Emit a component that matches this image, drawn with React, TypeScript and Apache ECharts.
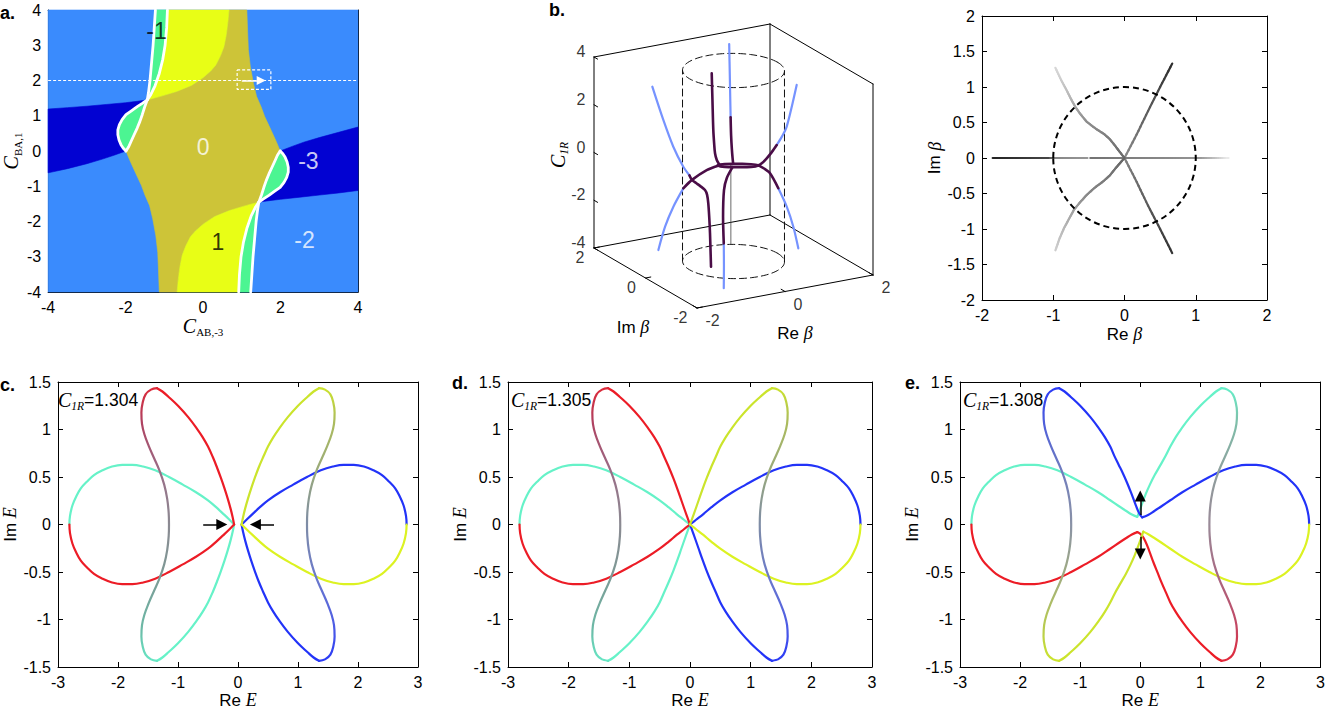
import React, { useEffect, useRef } from "react";
import * as echarts from "echarts";

type Pt = number[];
const FONT = '"Liberation Sans", Arial, Helvetica, sans-serif';
const SERIF = '"Liberation Serif", "Times New Roman", serif';

// ================= panel a : phase diagram =================
const aFrame: Pt[] = [[-4, -4], [4, -4], [4, 4], [-4, 4]];
const aStripTopLeft: Pt[] = [[-1.23, 4], [-1.26, 3.5], [-1.29, 3.0], [-1.33, 2.5], [-1.37, 2.0], [-1.41, 1.65], [-1.44, 1.45]];
const aStripTopRight: Pt[] = [[-0.92, 4], [-0.94, 3.5], [-0.98, 3.0], [-1.04, 2.6], [-1.13, 2.2], [-1.24, 1.85], [-1.36, 1.58], [-1.44, 1.45]];
const aStripBotLeft: Pt[] = [[0.92, -4], [0.94, -3.5], [0.98, -3.0], [1.04, -2.6], [1.13, -2.2], [1.24, -1.85], [1.36, -1.58], [1.44, -1.45]];
const aStripBotRight: Pt[] = [[1.23, -4], [1.26, -3.5], [1.29, -3.0], [1.33, -2.5], [1.37, -2.0], [1.41, -1.65], [1.44, -1.45]];
const aLobeLOuter: Pt[] = [[-1.44, 1.45], [-1.56, 1.36], [-1.7, 1.26], [-1.85, 1.14], [-1.99, 1.03], [-2.09, 0.89], [-2.16, 0.75], [-2.2, 0.6], [-2.2, 0.46], [-2.17, 0.31], [-2.12, 0.18], [-2.06, 0.08], [-1.99, 0]];
const aLobeLInner: Pt[] = [[-1.99, 0], [-1.92, 0.12], [-1.86, 0.27], [-1.78, 0.46], [-1.7, 0.65], [-1.63, 0.84], [-1.57, 1.03], [-1.51, 1.24], [-1.44, 1.45]];
const aLobeROuter: Pt[] = [[1.44, -1.45], [1.56, -1.36], [1.7, -1.26], [1.85, -1.14], [1.99, -1.03], [2.09, -0.89], [2.16, -0.75], [2.2, -0.6], [2.2, -0.46], [2.17, -0.31], [2.12, -0.18], [2.06, -0.08], [1.99, 0]];
const aLobeRInner: Pt[] = [[1.99, 0], [1.92, -0.12], [1.86, -0.27], [1.78, -0.46], [1.7, -0.65], [1.63, -0.84], [1.57, -1.03], [1.51, -1.24], [1.44, -1.45]];
const aBandLTop: Pt[] = [[-4, 1.19], [-3.5, 1.23], [-3.0, 1.27], [-2.5, 1.32], [-2.0, 1.37], [-1.7, 1.41], [-1.44, 1.45]];
const aBandLBottom: Pt[] = [[-1.99, 0], [-2.3, -0.12], [-2.6, -0.23], [-3.0, -0.36], [-3.5, -0.5], [-4, -0.62]];
const aBandRTop: Pt[] = [[1.99, 0], [2.3, 0.13], [2.6, 0.25], [3.0, 0.38], [3.5, 0.53], [4, 0.68]];
const aBandRBottom: Pt[] = [[4, -1.12], [3.5, -1.19], [3.0, -1.25], [2.5, -1.31], [2.0, -1.37], [1.7, -1.41], [1.44, -1.45]];
const aYellowEdgeTop: Pt[] = [[-1.44, 1.45], [-1.1, 1.55], [-0.68, 1.69], [-0.3, 1.86], [-0.01, 2.07], [0.2, 2.27], [0.33, 2.44], [0.45, 2.7], [0.54, 2.96], [0.6, 3.3], [0.64, 3.65], [0.67, 4]];
const aYellowEdgeBot: Pt[] = [[1.44, -1.45], [1.1, -1.55], [0.68, -1.69], [0.3, -1.86], [0.01, -2.07], [-0.2, -2.27], [-0.33, -2.44], [-0.45, -2.7], [-0.54, -2.96], [-0.6, -3.3], [-0.64, -3.65], [-0.67, -4]];
const aOliveRight: Pt[] = [[1.13, 4], [1.15, 3.4], [1.17, 2.87], [1.22, 2.4], [1.3, 1.92], [1.38, 1.55], [1.5, 1.25], [1.59, 0.98], [1.7, 0.72], [1.81, 0.46], [1.9, 0.24], [1.99, 0]];
const aOliveLeft: Pt[] = [[-1.13, -4], [-1.15, -3.4], [-1.17, -2.87], [-1.22, -2.4], [-1.3, -1.92], [-1.38, -1.55], [-1.5, -1.25], [-1.59, -0.98], [-1.7, -0.72], [-1.81, -0.46], [-1.9, -0.24], [-1.99, 0]];
const aLabelText = ["-1", "0", "-3", "1", "-2"];
const aLabelAt: Pt[] = [[-1.2, 3.41], [0.0, 0.12], [2.72, -0.28], [0.38, -2.57], [2.62, -2.52]];
const aLabelInk = ["#000", "#fff", "#fff", "#000", "#fff"];
const aDottedLine: Pt[] = [[-4, 2], [4, 2]];
const aDashedBox: Pt[] = [[0.88, 2.3], [1.75, 2.3], [1.75, 1.75], [0.88, 1.75], [0.88, 2.3]];
const aArrow: Pt[] = [[1.0, 2], [1.5, 2]];

// ================= panel b (3D) : [Re beta, Im beta, C1R] =================
const bNegReal: Pt[] = [[-1.845, 0, 3.96], [-1.595, 0, 2.48], [-1.368, 0, 1.28], [-1.141, 0, 0.36], [-1.0, 0, -0.05], [-0.943, 0, -0.26], [-0.85, 0, -0.42], [-0.761, 0, -0.57], [-0.648, 0, -0.78], [-0.6, 0, -1.0], [-0.573, 0, -1.37], [-0.55, 0, -2.0], [-0.534, 0, -2.63], [-0.511, 0, -4.04]];
const bBranchUp: Pt[] = [[-0.961, 1.276, -3.99], [-0.875, 1.162, -2.97], [-0.769, 1.021, -2.08], [-0.642, 0.852, -1.25], [-0.595, 0.595, -0.75], [-0.384, 0.384, -0.28], [-0.222, 0.222, -0.05]];
const bTopInner: Pt[] = [[-0.495, 0, 4.05], [-0.478, 0, 2.9], [-0.459, 0, 1.67], [-0.44, 0, 1.1], [-0.42, 0, 0.68], [-0.38, 0, 0.38], [-0.33, 0, 0.2], [-0.3, 0, 0.12]];
const bRay63: Pt[] = [[0.658, 1.292, 4.07], [0.568, 1.114, 2.9], [0.499, 0.98, 2.1], [0.44, 0.864, 1.35], [0.363, 0.713, 0.7], [0.25, 0.49, 0.3], [0.136, 0.267, 0.1], [0.045, 0.089, 0.02]];
const bPosReal: Pt[] = [[1.436, 0, 2.9], [1.209, 0, 1.23], [1.1, 0, 0.85], [0.982, 0, 0.54], [0.87, 0, 0.28], [0.755, 0, 0.06], [0.65, 0, -0.1], [0.57, 0, -0.176]];
const bRayM63: Pt[] = [[0.262, -0.515, 0.27], [0.323, -0.634, 0.18], [0.386, -0.758, 0.04], [0.474, -0.93, -0.51], [0.563, -1.105, -1.2], [0.633, -1.242, -1.98], [0.686, -1.345, -2.84]];
const bBranchDown: Pt[] = [[-0.05, -0.05, 0], [-0.3, -0.25, -0.25], [-0.45, -0.4, -0.6], [-0.6, -0.62, -1.54], [-0.66, -0.75, -2.54], [-0.82, -1.03, -3.25], [-0.97, -1.28, -3.98]];
const bRingTop: Pt[] = [[-0.36, 0, 0.145], [-0.3, 0, 0.162], [-0.2, 0, 0.149], [0, 0, 0.088], [0.2, 0, 0.019], [0.4, 0, -0.063], [0.5, 0, -0.119], [0.57, 0, -0.176]];
const bRingBottom: Pt[] = [[0.57, 0, -0.176], [0.5, 0, -0.19], [0.4, 0, -0.176], [0.2, 0, -0.115], [0, 0, -0.046], [-0.2, 0, 0.031], [-0.3, 0, 0.087], [-0.36, 0, 0.145]];
const bThin: Pt[] = [[-0.06, 0, 0.1], [-0.06, 0, -3.25]];
const bZTicks = [4, 2, 0, -2, -4];
const bImTicks = [2, 0, -2];
const bReTicks = [-2, 0, 2];
const bCylR = 1;

// ================= panel b (2D beta plane) =================
const betaRealNeg: Pt[] = [[-1.85, 0], [-1.63, 0], [-1.41, 0], [-1.19, 0], [-0.97, 0], [-0.74, 0], [-0.52, 0]];
const betaRealPos: Pt[] = [[-0.48, 0], [-0.26, 0], [-0.04, 0], [0.18, 0], [0.4, 0], [0.62, 0], [0.84, 0], [1.06, 0], [1.28, 0], [1.46, 0]];
const beta63: Pt[] = [[0, 0], [0.17, 0.33], [0.33, 0.66], [0.5, 1.0], [0.67, 1.33]];
const betaM63: Pt[] = [[0, 0], [0.17, -0.335], [0.33, -0.67], [0.5, -1.0], [0.67, -1.34]];
const betaUL: Pt[] = [[0, 0], [-0.07, 0.09], [-0.13, 0.17], [-0.21, 0.27], [-0.29, 0.34], [-0.4, 0.41], [-0.53, 0.51], [-0.62, 0.62], [-0.69, 0.72], [-0.75, 0.83], [-0.81, 0.95], [-0.89, 1.1], [-0.97, 1.27]];
const betaLL: Pt[] = [[0, 0], [-0.07, -0.08], [-0.13, -0.15], [-0.21, -0.25], [-0.3, -0.33], [-0.42, -0.42], [-0.53, -0.52], [-0.62, -0.62], [-0.71, -0.73], [-0.78, -0.86], [-0.85, -0.99], [-0.91, -1.13], [-0.97, -1.3]];

// ================= panels c, d, e : complex E =================
const eArcLU: Pt[] = [[-2.81, 0], [-2.8, 0.09], [-2.76, 0.2], [-2.7, 0.29], [-2.62, 0.38], [-2.52, 0.45], [-2.4, 0.52], [-2.26, 0.57], [-2.1, 0.61], [-1.93, 0.628], [-1.76, 0.628], [-1.58, 0.61], [-1.38, 0.57], [-1.15, 0.5], [-0.92, 0.42], [-0.7, 0.34], [-0.5, 0.255]];
const eArcLL: Pt[] = [[-2.81, 0], [-2.8, -0.09], [-2.76, -0.2], [-2.7, -0.29], [-2.62, -0.38], [-2.52, -0.45], [-2.4, -0.52], [-2.26, -0.57], [-2.1, -0.61], [-1.93, -0.628], [-1.76, -0.628], [-1.58, -0.61], [-1.38, -0.57], [-1.15, -0.5], [-0.92, -0.42], [-0.7, -0.34], [-0.5, -0.255]];
const eArcRU: Pt[] = [[2.81, 0], [2.8, 0.09], [2.76, 0.2], [2.7, 0.29], [2.62, 0.38], [2.52, 0.45], [2.4, 0.52], [2.26, 0.57], [2.1, 0.61], [1.93, 0.628], [1.76, 0.628], [1.58, 0.61], [1.38, 0.57], [1.15, 0.5], [0.92, 0.42], [0.7, 0.34], [0.5, 0.255]];
const eArcRL: Pt[] = [[2.81, 0], [2.8, -0.09], [2.76, -0.2], [2.7, -0.29], [2.62, -0.38], [2.52, -0.45], [2.4, -0.52], [2.26, -0.57], [2.1, -0.61], [1.93, -0.628], [1.76, -0.628], [1.58, -0.61], [1.38, -0.57], [1.15, -0.5], [0.92, -0.42], [0.7, -0.34], [0.5, -0.255]];
const ePetalULFar: Pt[] = [[-0.5, 0.82], [-0.59, 0.92], [-0.68, 1.005], [-0.83, 1.13], [-1.0, 1.25], [-1.16, 1.345], [-1.26, 1.4], [-1.35, 1.435]];
const ePetalLLFar: Pt[] = [[-0.5, -0.82], [-0.59, -0.92], [-0.68, -1.005], [-0.83, -1.13], [-1.0, -1.25], [-1.16, -1.345], [-1.26, -1.4], [-1.35, -1.435]];
const ePetalURFar: Pt[] = [[0.5, 0.82], [0.59, 0.92], [0.68, 1.005], [0.83, 1.13], [1.0, 1.25], [1.16, 1.345], [1.26, 1.4], [1.35, 1.435]];
const ePetalLRFar: Pt[] = [[0.5, -0.82], [0.59, -0.92], [0.68, -1.005], [0.83, -1.13], [1.0, -1.25], [1.16, -1.345], [1.26, -1.4], [1.35, -1.435]];
const eSL: Pt[] = [[-1.35, 1.435], [-1.45, 1.42], [-1.54, 1.37], [-1.59, 1.28], [-1.61, 1.18], [-1.6, 1.06], [-1.56, 0.95], [-1.49, 0.83], [-1.4, 0.7], [-1.31, 0.57], [-1.23, 0.42], [-1.18, 0.27], [-1.155, 0.12], [-1.15, 0], [-1.155, -0.12], [-1.18, -0.27], [-1.23, -0.42], [-1.31, -0.57], [-1.4, -0.7], [-1.49, -0.83], [-1.56, -0.95], [-1.6, -1.06], [-1.61, -1.18], [-1.59, -1.28], [-1.54, -1.37], [-1.45, -1.42], [-1.35, -1.435]];
const eSR: Pt[] = [[1.35, 1.435], [1.45, 1.42], [1.54, 1.37], [1.59, 1.28], [1.61, 1.18], [1.6, 1.06], [1.56, 0.95], [1.49, 0.83], [1.4, 0.7], [1.31, 0.57], [1.23, 0.42], [1.18, 0.27], [1.155, 0.12], [1.15, 0], [1.155, -0.12], [1.18, -0.27], [1.23, -0.42], [1.31, -0.57], [1.4, -0.7], [1.49, -0.83], [1.56, -0.95], [1.6, -1.06], [1.61, -1.18], [1.59, -1.28], [1.54, -1.37], [1.45, -1.42], [1.35, -1.435]];

// panel c (C1R = 1.304): two pinched tips
const cArcLUNear: Pt[] = [[-0.5, 0.255], [-0.37, 0.185], [-0.25, 0.115], [-0.15, 0.055], [-0.065, 0]];
const cArcLLNear: Pt[] = [[-0.5, -0.255], [-0.37, -0.185], [-0.25, -0.115], [-0.15, -0.055], [-0.065, 0]];
const cPetalULNear: Pt[] = [[-0.065, 0], [-0.09, 0.08], [-0.125, 0.17], [-0.17, 0.27], [-0.225, 0.38], [-0.285, 0.49], [-0.35, 0.6], [-0.42, 0.71], [-0.5, 0.82]];
const cPetalLLNear: Pt[] = [[-0.065, 0], [-0.09, -0.08], [-0.125, -0.17], [-0.17, -0.27], [-0.225, -0.38], [-0.285, -0.49], [-0.35, -0.6], [-0.42, -0.71], [-0.5, -0.82]];
const cArcRUNear: Pt[] = [[0.5, 0.255], [0.37, 0.185], [0.25, 0.115], [0.15, 0.055], [0.06, 0]];
const cArcRLNear: Pt[] = [[0.5, -0.255], [0.37, -0.185], [0.25, -0.115], [0.15, -0.055], [0.06, 0]];
const cPetalURNear: Pt[] = [[0.06, 0], [0.085, 0.08], [0.12, 0.17], [0.165, 0.27], [0.22, 0.38], [0.28, 0.49], [0.345, 0.6], [0.42, 0.71], [0.5, 0.82]];
const cPetalLRNear: Pt[] = [[0.06, 0], [0.085, -0.08], [0.12, -0.17], [0.165, -0.27], [0.22, -0.38], [0.28, -0.49], [0.345, -0.6], [0.42, -0.71], [0.5, -0.82]];
const cArrows: Pt[][] = [[[-0.58, 0], [-0.27, 0]], [[0.6, 0], [0.29, 0]]];

// panel d (C1R = 1.305): all touch at the origin
const dArcLUNear: Pt[] = [[-0.5, 0.255], [-0.35, 0.18], [-0.22, 0.11], [-0.1, 0.05], [0, 0]];
const dArcLLNear: Pt[] = [[-0.5, -0.255], [-0.35, -0.18], [-0.22, -0.11], [-0.1, -0.05], [0, 0]];
const dPetalULNear: Pt[] = [[0, 0], [-0.04, 0.07], [-0.085, 0.15], [-0.14, 0.25], [-0.2, 0.36], [-0.27, 0.48], [-0.34, 0.59], [-0.42, 0.705], [-0.5, 0.82]];
const dPetalLLNear: Pt[] = [[0, 0], [-0.04, -0.07], [-0.085, -0.15], [-0.14, -0.25], [-0.2, -0.36], [-0.27, -0.48], [-0.34, -0.59], [-0.42, -0.705], [-0.5, -0.82]];
const dArcRUNear: Pt[] = [[0.5, 0.255], [0.35, 0.18], [0.22, 0.11], [0.1, 0.05], [0, 0]];
const dArcRLNear: Pt[] = [[0.5, -0.255], [0.35, -0.18], [0.22, -0.11], [0.1, -0.05], [0, 0]];
const dPetalURNear: Pt[] = [[0, 0], [0.04, 0.07], [0.085, 0.15], [0.14, 0.25], [0.2, 0.36], [0.27, 0.48], [0.34, 0.59], [0.42, 0.705], [0.5, 0.82]];
const dPetalLRNear: Pt[] = [[0, 0], [0.04, -0.07], [0.085, -0.15], [0.14, -0.25], [0.2, -0.36], [0.27, -0.48], [0.34, -0.59], [0.42, -0.705], [0.5, -0.82]];

// panel e (C1R = 1.308): reconnected, separated tips
const xArcLUNear: Pt[] = [[-0.5, 0.255], [-0.36, 0.195], [-0.24, 0.145], [-0.14, 0.105], [-0.05, 0.08]];
const xPetalURNear: Pt[] = [[-0.05, 0.08], [-0.015, 0.14], [0.03, 0.22], [0.09, 0.32], [0.16, 0.42], [0.24, 0.52], [0.33, 0.62], [0.42, 0.72], [0.5, 0.82]];
const xPetalULNear: Pt[] = [[0.03, 0.075], [-0.02, 0.12], [-0.085, 0.22], [-0.15, 0.33], [-0.22, 0.44], [-0.29, 0.54], [-0.36, 0.63], [-0.43, 0.72], [-0.5, 0.82]];
const xArcRUNear: Pt[] = [[0.5, 0.255], [0.36, 0.195], [0.24, 0.145], [0.13, 0.1], [0.03, 0.075]];
const xArcLLNear: Pt[] = [[-0.5, -0.255], [-0.36, -0.195], [-0.24, -0.145], [-0.14, -0.105], [-0.05, -0.08]];
const xPetalLRNear: Pt[] = [[-0.05, -0.08], [0.02, -0.11], [0.08, -0.17], [0.15, -0.28], [0.22, -0.4], [0.29, -0.51], [0.36, -0.62], [0.43, -0.72], [0.5, -0.82]];
const xArcRLNear: Pt[] = [[0.5, -0.255], [0.36, -0.195], [0.24, -0.145], [0.14, -0.105], [0.05, -0.075]];
const xPetalLLNear: Pt[] = [[0.05, -0.075], [0.015, -0.14], [-0.03, -0.22], [-0.09, -0.32], [-0.16, -0.42], [-0.24, -0.52], [-0.33, -0.62], [-0.42, -0.72], [-0.5, -0.82]];
const eArrows: Pt[][] = [[[0, 0.1], [0, 0.3]], [[0, -0.13], [0, -0.31]]];
const c1rValues = ["1.304", "1.305", "1.308"];

// ================= styles =================
const COL = {
  light: "#3a8bfd", dark: "#0202d2", olive: "#cdc438", yellow: "#e8fe16", green: "#4cf592",
  cyan: "#66f2c8", red: "#ec1c26", blue: "#2233f8", yel: "#dcf222", yg: "#cbe42c",
};
const gLeftCD: [number, string][] = [[0, "#dc2a3a"], [0.12, "#b0405f"], [0.3, "#9a6c86"], [0.5, "#8b8a92"], [0.7, "#7c9b96"], [0.88, "#6cb9a6"], [1, "#66e6c4"]];
const gRightCD: [number, string][] = [[0, "#cbe22e"], [0.12, "#acbc5c"], [0.3, "#9aaa7a"], [0.5, "#7e8ca6"], [0.7, "#6a78cc"], [0.88, "#4b5ae6"], [1, "#2a3af6"]];
const gLeftE: [number, string][] = [[0, "#2a3af6"], [0.12, "#4d5ddc"], [0.3, "#6f7cbe"], [0.5, "#8a92a6"], [0.7, "#a2ae7e"], [0.88, "#b8cc4e"], [1, "#cbe42c"]];
const gRightE: [number, string][] = [[0, "#66eec8"], [0.12, "#7ec0aa"], [0.3, "#8ea09e"], [0.5, "#9a8a98"], [0.7, "#aa6680"], [0.88, "#c44662"], [1, "#e2283a"]];

const GRID_A = { left: 42, top: 10, width: 316, height: 282 };
const GRID_3D = { left: 540, top: 0, width: 360, height: 340 };
const GRID_B = { left: 982, top: 16, width: 285, height: 284 };
const GRID_C = { left: 55, top: 382, width: 363, height: 285 };
const GRID_D = { left: 508, top: 382, width: 364, height: 285 };
const GRID_E = { left: 960, top: 382, width: 363, height: 285 };

// 3D view (azimuth/elevation) expressed as a linear projection, pixels per unit
const PROJ = { re: [44, 8.25], im: [-25.75, 15], z: [0, 23.875] };
const proj = (p: Pt): Pt => [PROJ.re[0] * p[0] + PROJ.im[0] * p[1] + PROJ.z[0] * p[2], PROJ.re[1] * p[0] + PROJ.im[1] * p[1] + PROJ.z[1] * p[2]];

const hex = (c: number[]) => `rgb(${c.map((v) => Math.round(v)).join(",")})`;
function mix(stops: [number, number[]][], t: number) {
  if (t <= stops[0][0]) return hex(stops[0][1]);
  for (let i = 0; i < stops.length - 1; i++) {
    const [o0, c0] = stops[i];
    const [o1, c1] = stops[i + 1];
    if (t <= o1) {
      const f = (t - o0) / (o1 - o0 || 1);
      return hex(c0.map((v, k) => v + (c1[k] - v) * f));
    }
  }
  return hex(stops[stops.length - 1][1]);
}
const gray = (v: number) => [v, v, v];

const richSub = {
  c: { fontFamily: SERIF, fontStyle: "italic", fontSize: 20, lineHeight: 24, color: "#000", fill: "#000" },
  s: { fontFamily: SERIF, fontStyle: "italic", fontSize: 11.5, lineHeight: 7, verticalAlign: "bottom", color: "#000", fill: "#000" },
  u: { fontFamily: SERIF, fontSize: 11, lineHeight: 7, verticalAlign: "bottom", color: "#000", fill: "#000" },
  n: { fontFamily: FONT, fontSize: 17.5, lineHeight: 24, color: "#000", fill: "#000" },
  r: { fontFamily: FONT, fontSize: 17, lineHeight: 24, color: "#000", fill: "#000" },
  i: { fontFamily: SERIF, fontStyle: "italic", fontSize: 18, lineHeight: 24, color: "#000", fill: "#000" },
};

function buildOption() {
  const xAxis: any[] = [];
  const yAxis: any[] = [];
  const series: any[] = [];
  const grid = [GRID_A, GRID_3D, GRID_B, GRID_C, GRID_D, GRID_E].map((g) => ({ ...g, show: false, containLabel: false }));

  const axisCfg = (gi: number, r: number[], position: string, labels: boolean, nm?: any) => {
    const o: any = {
      type: "value", gridIndex: gi, min: r[0], max: r[1], interval: r[2], position,
      axisLine: { show: true, onZero: false, lineStyle: { color: "#000", width: 1 } },
      axisTick: { show: true, inside: true, length: 5, lineStyle: { color: "#000", width: 1 } },
      axisLabel: { show: labels, color: "#000", fontFamily: FONT, fontSize: 16, margin: 7 },
      splitLine: { show: false },
    };
    if (nm) {
      o.name = nm.text;
      o.nameLocation = "middle";
      o.nameGap = nm.gap;
      o.nameTextStyle = { color: "#000", fontFamily: FONT, fontSize: 17, rich: richSub };
    }
    return o;
  };
  const frame = (gi: number, xr: number[], yr: number[], xn: any, yn: any) => {
    const xi = xAxis.length;
    xAxis.push(axisCfg(gi, xr, "bottom", true, xn));
    xAxis.push(axisCfg(gi, xr, "top", false));
    const yi = yAxis.length;
    yAxis.push(axisCfg(gi, yr, "left", true, yn));
    yAxis.push(axisCfg(gi, yr, "right", false));
    return { xi, yi };
  };

  // ---------- panel a ----------
  const A = frame(0, [-4, 4, 2], [-4, 4, 1], { text: "{c|C}{u|AB,-3}", gap: 19 }, { text: "{c|C}{u|BA,1}", gap: 21 });
  const aRegions = [
    { pts: aFrame, color: COL.light },
    { pts: [...aBandLTop, ...aLobeLOuter.slice(1), ...aBandLBottom.slice(1)], color: COL.dark },
    { pts: [...aBandRTop, ...aBandRBottom, ...aLobeROuter.slice(1)], color: COL.dark },
    { pts: [...aYellowEdgeTop, ...aOliveRight, ...aLobeRInner.slice(1), ...aYellowEdgeBot.slice(1), ...aOliveLeft, ...aLobeLInner.slice(1)], color: COL.olive },
    { pts: [...aStripTopRight, ...aYellowEdgeTop.slice(1)], color: COL.yellow },
    { pts: [...aStripBotLeft, ...aYellowEdgeBot.slice(1)], color: COL.yellow },
    { pts: [...aStripTopLeft, ...aStripTopRight.slice().reverse().slice(1)], color: COL.green },
    { pts: [...aStripBotRight, ...aStripBotLeft.slice().reverse().slice(1)], color: COL.green },
    { pts: [...aLobeLOuter, ...aLobeLInner.slice(1)], color: COL.green },
    { pts: [...aLobeROuter, ...aLobeRInner.slice(1)], color: COL.green },
  ];
  series.push({
    type: "custom", xAxisIndex: A.xi, yAxisIndex: A.yi, silent: true, z: 1,
    data: aRegions.map((_, i) => [0, 0, i]),
    renderItem: (params: any, api: any) => {
      const r = aRegions[params.dataIndex];
      return { type: "polygon", shape: { points: r.pts.map((p) => api.coord(p)) }, style: { fill: r.color, stroke: r.color, lineWidth: 0.6 } };
    },
  });
  [aStripTopLeft, aStripTopRight, aLobeLOuter, aLobeLInner, aStripBotLeft, aStripBotRight, aLobeROuter, aLobeRInner].forEach((pts) =>
    series.push({ type: "line", xAxisIndex: A.xi, yAxisIndex: A.yi, data: pts, symbol: "none", silent: true, z: 4, lineStyle: { color: "#fff", width: 2.8, cap: "round", join: "round" } })
  );
  series.push({ type: "line", xAxisIndex: A.xi, yAxisIndex: A.yi, data: aDottedLine, symbol: "none", silent: true, z: 4, lineStyle: { color: "#fff", width: 1.2, type: [3, 2] } });
  series.push({ type: "line", xAxisIndex: A.xi, yAxisIndex: A.yi, data: aDashedBox, symbol: "none", silent: true, z: 4, lineStyle: { color: "#fff", width: 1.2, type: [3, 2] } });
  series.push({
    type: "lines", coordinateSystem: "cartesian2d", xAxisIndex: A.xi, yAxisIndex: A.yi, silent: true, z: 5,
    symbol: ["none", "triangle"], symbolSize: 9, lineStyle: { color: "#fff", width: 1.6, opacity: 1, curveness: 0 },
    data: [{ coords: aArrow }],
  });
  series.push({
    type: "scatter", xAxisIndex: A.xi, yAxisIndex: A.yi, silent: true, z: 6, symbolSize: 1, itemStyle: { color: "rgba(0,0,0,0)" },
    data: aLabelText.map((t, i) => ({ value: [aLabelAt[i][0], aLabelAt[i][1], t], label: { color: aLabelInk[i] } })),
    label: { show: true, position: "inside", formatter: (p: any) => p.value[2], fontFamily: FONT, fontSize: 23, align: "center", verticalAlign: "middle" },
  });

  // ---------- panel b : 3D ----------
  const H = { xi: xAxis.length, yi: yAxis.length };
  xAxis.push({ type: "value", gridIndex: 1, min: -193.5, max: 166.5, show: false });
  yAxis.push({ type: "value", gridIndex: 1, min: -174, max: 166, show: false });
  const line3 = (pts: Pt[], color: string, width: number, z: number, extra: any = {}) =>
    series.push({ type: "line", xAxisIndex: H.xi, yAxisIndex: H.yi, data: pts.map(proj), symbol: "none", silent: true, z, lineStyle: { color, width, cap: "round", join: "round", ...(extra.lineStyle || {}) }, smooth: extra.smooth || false });
  const boxEdges: Pt[][] = [
    [[-2, 2, -4], [-2, 2, 4]], [[2, 2, -4], [2, 2, 4]], [[2, -2, -4], [2, -2, 4]],
    [[-2, 2, 4], [2, 2, 4]], [[2, 2, 4], [2, -2, 4]],
    [[-2, 2, -4], [2, 2, -4]], [[2, 2, -4], [2, -2, -4]], [[-2, 2, -4], [-2, -2, -4]], [[-2, -2, -4], [2, -2, -4]],
  ];
  boxEdges.forEach((e) => line3(e, "#000", 1, 1));
  bZTicks.forEach((z) => line3([[-2, 2, z], [-2, 1.86, z]], "#000", 1, 1));
  bImTicks.forEach((im) => line3([[-2, im, -4], [-1.88, im, -4]], "#000", 1, 1));
  bReTicks.forEach((re) => line3([[re, -2, -4], [re, -1.85, -4]], "#000", 1, 1));
  // dashed cylinder |beta| = 1
  const ring = (z: number) => Array.from({ length: 91 }, (_, k) => { const t = (k / 90) * 2 * Math.PI; return [bCylR * Math.cos(t), bCylR * Math.sin(t), z]; });
  const th = Math.atan2(PROJ.im[0], PROJ.re[0]);
  const sil1 = [Math.cos(th) * bCylR, Math.sin(th) * bCylR];
  const sil2 = [-sil1[0], -sil1[1]];
  const dashed = { lineStyle: { type: [7, 4] } };
  line3(ring(4), "#111", 1, 2, dashed);
  line3(ring(-4), "#111", 1, 2, dashed);
  line3([[sil1[0], sil1[1], -4], [sil1[0], sil1[1], 4]], "#111", 1, 2, dashed);
  line3([[sil2[0], sil2[1], -4], [sil2[0], sil2[1], 4]], "#111", 1, 2, dashed);
  line3(bThin, "#444", 0.8, 2);
  const PURPLE = "#4a0d47";
  const BLUE3 = "#7693ff";
  const drawCurve = (c: Pt[]) => {
    let cur: Pt[] = [c[0]];
    let inside: boolean | null = null;
    const flush = () => line3(cur, inside ? PURPLE : BLUE3, inside ? 2.6 : 2.2, inside ? 4 : 3, { smooth: 0.3 });
    for (let i = 0; i < c.length - 1; i++) {
      const a = c[i], b = c[i + 1];
      const ins = Math.hypot((a[0] + b[0]) / 2, (a[1] + b[1]) / 2) < bCylR;
      if (inside === null) inside = ins;
      if (ins !== inside) { flush(); cur = [a]; inside = ins; }
      cur.push(b);
    }
    flush();
  };
  [bNegReal, bBranchUp, bTopInner, bRay63, bPosReal, bRayM63, bBranchDown, bRingTop, bRingBottom].forEach(drawCurve);
  const tickLabels = (pts: Pt[], texts: string[], position: number[], align: string) =>
    series.push({
      type: "scatter", xAxisIndex: H.xi, yAxisIndex: H.yi, silent: true, z: 6, symbolSize: 1, itemStyle: { color: "rgba(0,0,0,0)" },
      data: pts.map((p, i) => ({ value: [...proj(p), texts[i]] })),
      label: { show: true, position, formatter: (p: any) => p.value[2], fontFamily: FONT, fontSize: 16, color: "#000", align, verticalAlign: "middle" },
    });
  tickLabels(bZTicks.map((z) => [-2, 2, z]), bZTicks.map(String), [-8, -5], "right");
  tickLabels(bImTicks.map((im) => [-2, im, -4]), bImTicks.map(String), [-9, 10], "right");
  tickLabels(bReTicks.map((re) => [re, -2, -4]), bReTicks.map(String), [9, 13], "left");

  // ---------- panel b : beta plane ----------
  const B = frame(2, [-2, 2, 1], [-2, 2, 0.5], { text: "{r|Re\u00a0}{i|β}", gap: 22 }, { text: "{r|Im\u00a0}{i|β}", gap: 34 });
  const gradPolyline = (pts: Pt[], stops: [number, number[]][], width: number, ax: any, z = 3) => {
    const n = pts.length;
    return {
      type: "custom", xAxisIndex: ax.xi, yAxisIndex: ax.yi, silent: true, z,
      data: pts.slice(0, -1).map((p, i) => [p[0], p[1], pts[i + 1][0], pts[i + 1][1], i]),
      encode: { x: [0, 2], y: [1, 3] },
      renderItem: (params: any, api: any) => {
        const a = api.coord([api.value(0), api.value(1)]);
        const b = api.coord([api.value(2), api.value(3)]);
        const i = api.value(4);
        const k = 6;
        const children: any[] = [];
        for (let j = 0; j < k; j++) {
          const t0 = j / k, t1 = (j + 1) / k;
          children.push({
            type: "line",
            shape: { x1: a[0] + (b[0] - a[0]) * t0, y1: a[1] + (b[1] - a[1]) * t0, x2: a[0] + (b[0] - a[0]) * t1, y2: a[1] + (b[1] - a[1]) * t1 },
            style: { stroke: mix(stops, (i + (j + 0.5) / k) / (n - 1)), lineWidth: width, lineCap: "round" },
          });
        }
        return { type: "group", children };
      },
    };
  };
  series.push(gradPolyline(betaRealNeg, [[0, gray(35)], [0.6, gray(70)], [0.66, gray(135)], [1, gray(150)]], 2.2, B));
  series.push(gradPolyline(betaRealPos, [[0, gray(115)], [0.5, gray(135)], [0.78, gray(150)], [1, gray(238)]], 2.2, B));
  series.push(gradPolyline(beta63, [[0, gray(140)], [1, gray(45)]], 2.2, B));
  series.push(gradPolyline(betaM63, [[0, gray(130)], [1, gray(50)]], 2.2, B));
  series.push(gradPolyline(betaUL, [[0, gray(105)], [0.5, gray(140)], [1, gray(215)]], 2.2, B));
  series.push(gradPolyline(betaLL, [[0, gray(100)], [0.5, gray(135)], [1, gray(205)]], 2.2, B));
  series.push({
    type: "custom", xAxisIndex: B.xi, yAxisIndex: B.yi, silent: true, z: 5, data: [[0, 0]],
    renderItem: (params: any, api: any) => {
      const c = api.coord([0, 0]);
      const s = api.size([bCylR, bCylR]);
      return { type: "ellipse", shape: { cx: c[0], cy: c[1], rx: s[0], ry: s[1] }, style: { fill: "none", stroke: "#000", lineWidth: 2, lineDash: [6, 4] } };
    },
  });

  // ---------- panels c, d, e ----------
  const flower = (ax: any, pieces: any[]) =>
    pieces.forEach((pc) =>
      series.push({
        type: "line", xAxisIndex: ax.xi, yAxisIndex: ax.yi, data: pc.pts, symbol: "none", silent: true, z: 3, smooth: 0.4,
        lineStyle: {
          width: 2.2, cap: "round", join: "round",
          color: pc.grad ? new echarts.graphic.LinearGradient(0, 0, 0, 1, pc.grad.map((s: any) => ({ offset: s[0], color: s[1] }))) : pc.color,
        },
      })
    );
  const piecesCD = (n: any) => [
    { pts: [...eArcLU, ...n.arcLU.slice(1)], color: COL.cyan },
    { pts: [...n.petLL, ...ePetalLLFar.slice(1)], color: COL.cyan },
    { pts: [...n.petUL, ...ePetalULFar.slice(1)], color: COL.red },
    { pts: [...eArcLL, ...n.arcLL.slice(1)], color: COL.red },
    { pts: eSL, grad: gLeftCD },
    { pts: [...eArcRU, ...n.arcRU.slice(1)], color: COL.blue },
    { pts: [...n.petLR, ...ePetalLRFar.slice(1)], color: COL.blue },
    { pts: [...n.petUR, ...ePetalURFar.slice(1)], color: COL.yg },
    { pts: [...eArcRL, ...n.arcRL.slice(1)], color: COL.yel },
    { pts: eSR, grad: gRightCD },
  ];
  const xName = { text: "{r|Re\u00a0}{i|E}", gap: 21 };
  const yName = { text: "{r|Im\u00a0}{i|E}", gap: 36 };
  const Cc = frame(3, [-3, 3, 1], [-1.5, 1.5, 0.5], xName, yName);
  const Dd = frame(4, [-3, 3, 1], [-1.5, 1.5, 0.5], xName, yName);
  const Ee = frame(5, [-3, 3, 1], [-1.5, 1.5, 0.5], xName, yName);
  flower(Cc, piecesCD({ arcLU: cArcLUNear, arcLL: cArcLLNear, petUL: cPetalULNear, petLL: cPetalLLNear, arcRU: cArcRUNear, arcRL: cArcRLNear, petUR: cPetalURNear, petLR: cPetalLRNear }));
  flower(Dd, piecesCD({ arcLU: dArcLUNear, arcLL: dArcLLNear, petUL: dPetalULNear, petLL: dPetalLLNear, arcRU: dArcRUNear, arcRL: dArcRLNear, petUR: dPetalURNear, petLR: dPetalLRNear }));
  flower(Ee, [
    { pts: [...eArcLU, ...xArcLUNear.slice(1)], color: COL.cyan },
    { pts: [...xPetalURNear, ...ePetalURFar.slice(1)], color: COL.cyan },
    { pts: [...xPetalULNear, ...ePetalULFar.slice(1)], color: COL.blue },
    { pts: [...eArcRU, ...xArcRUNear.slice(1)], color: COL.blue },
    { pts: [...eArcLL, ...xArcLLNear.slice(1)], color: COL.red },
    { pts: [...xPetalLRNear, ...ePetalLRFar.slice(1)], color: COL.red },
    { pts: [...eArcRL, ...xArcRLNear.slice(1)], color: COL.yel },
    { pts: [...xPetalLLNear, ...ePetalLLFar.slice(1)], color: COL.yg },
    { pts: eSL, grad: gLeftE },
    { pts: eSR, grad: gRightE },
  ]);
  const arrows = (ax: any, list: Pt[][]) =>
    series.push({
      type: "lines", coordinateSystem: "cartesian2d", xAxisIndex: ax.xi, yAxisIndex: ax.yi, silent: true, z: 6,
      symbol: ["none", "triangle"], symbolSize: 11, lineStyle: { color: "#000", width: 1.5, opacity: 1, curveness: 0 },
      data: list.map((c) => ({ coords: c })),
    });
  arrows(Cc, cArrows);
  arrows(Ee, eArrows);

  // ---------- texts ----------
  const txt = (x: number, y: number, text: string, font: string, align = "left", extra: any = {}) => ({
    type: "text", x, y, silent: true, z: 100, ...extra,
    style: { text, font, fill: "#000", align, verticalAlign: "middle", textAlign: align, textVerticalAlign: "middle", ...(extra.style || {}) },
  });
  const bold = `bold 18px ${FONT}`;
  const graphic: any[] = [
    txt(0, 13, "a.", bold),
    txt(549, 10, "b.", bold),
    txt(0, 385, "c.", bold),
    txt(452, 383, "d.", bold),
    txt(905, 383, "e.", bold),
    txt(633, 327, "", "", "center", { style: { text: "{r|Im\u00a0}{i|β}", rich: richSub } }),
    txt(795, 333, "", "", "center", { style: { text: "{r|Re\u00a0}{i|β}", rich: richSub } }),
    txt(558, 155, "", "", "center", { rotation: Math.PI / 2, style: { text: "{c|C}{s|1R}", rich: richSub } }),
  ];
  [GRID_C, GRID_D, GRID_E].forEach((g, i) =>
    graphic.push(txt(g.left + 3, 400, "", "", "left", { style: { text: `{c|C}{s|1R}{n|=${c1rValues[i]}}`, rich: richSub } }))
  );

  return {
    animation: false,
    backgroundColor: "#fff",
    textStyle: { fontFamily: FONT },
    grid, xAxis, yAxis, series, graphic,
  };
}

export default function App() {
  const ref = useRef<HTMLDivElement>(null);
  useEffect(() => {
    const chart = echarts.init(ref.current!, null, { renderer: "svg", width: 1328, height: 726 });
    chart.setOption(buildOption() as any);
    return () => chart.dispose();
  }, []);
  return <div ref={ref} style={{ position: "absolute", left: 0, top: 0, width: 1328, height: 726, background: "#fff" }} />;
}
